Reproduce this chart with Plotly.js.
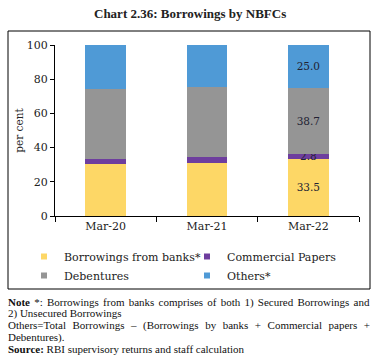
<!DOCTYPE html>
<html><head><meta charset="utf-8">
<script src="https://cdn.plot.ly/plotly-3.0.1.min.js"></script>
<style>html,body{margin:0;padding:0;background:#fff;}#chart{width:380px;height:363px;}</style>
</head><body><div id="chart"></div>
<script>
const categories = ['Mar-20', 'Mar-21', 'Mar-22'];
const banks = [30.4, 31.0, 33.5];
const commercialPapers = [2.7, 3.3, 2.8];
const debentures = [41.3, 41.1, 38.7];
const others = [25.6, 24.6, 25.0];
const seriesNames = ['Borrowings from banks*', 'Commercial Papers', 'Debentures', 'Others*'];
const colors = ['#FDD766', '#6E3E9E', '#959595', '#4F9AD6'];
const legendOf = ['legend', 'legend2', 'legend', 'legend2'];

function labels(vals) { return vals.map((v, i) => i === vals.length - 1 ? v.toFixed(1) : ''); }

const serif = 'Liberation Serif, Times New Roman, serif';
const wide = 'DejaVu Serif, serif';
const seriesVals = [banks, commercialPapers, debentures, others];
const traces = seriesVals.map((vals, k) => ({
  type: 'bar', x: categories, y: vals, name: seriesNames[k],
  legend: legendOf[k],
  marker: {color: colors[k]},
  width: 0.4,
  text: labels(vals), textposition: 'inside', insidetextanchor: 'middle',
  constraintext: 'none', cliponaxis: false,
  textfont: {family: wide, size: 10.5, color: '#222233'},
  hoverinfo: 'skip'
}));

const L = 55, R = 359, T = 45, B = 216;
const pw = R - L, ph = B - T;
const px = x => (x - L) / pw;
const py = y => (B - y) / ph;

const noteFont = {family: serif, size: 11, color: '#111'};
const noteLines = [
  [302, '<b>Note</b> *: Borrowings from banks comprises of both 1) Secured Borrowings and'],
  [313, '2) Unsecured Borrowings'],
  [325, 'Others=Total Borrowings – (Borrowings by banks + Commercial papers +'],
  [337, 'Debentures).'],
  [349, '<b>Source:</b> RBI supervisory returns and staff calculation']
];
const justifyIdx = [0, 2];
const annotations = noteLines.map(([y, t]) => ({
  xref: 'paper', yref: 'paper', x: px(7), y: py(y), xanchor: 'left', yanchor: 'middle',
  text: t, showarrow: false, font: noteFont, borderpad: 0, align: 'left'
}));
annotations.push({
  xref: 'paper', yref: 'paper', x: px(190), y: py(14), xanchor: 'center', yanchor: 'middle',
  text: '<b>Chart 2.36: Borrowings by NBFCs</b>', showarrow: false,
  font: {family: serif, size: 13, color: '#222'}
});

const legendCommon = {
  orientation: 'v', yanchor: 'top', xanchor: 'left', traceorder: 'normal',
  itemwidth: 30, bgcolor: 'rgba(0,0,0,0)',
  font: {family: wide, size: 11, color: '#222'}, tracegroupgap: 0
};

const layout = {
  width: 380, height: 363,
  margin: {l: L, r: 380 - R, t: T, b: 363 - B},
  paper_bgcolor: '#fff', plot_bgcolor: '#fff',
  barmode: 'stack', showlegend: true,
  font: {family: wide, size: 11, color: '#222'},
  xaxis: {
    showline: true, linecolor: '#000', linewidth: 1,
    ticks: 'outside', tickson: 'boundaries', ticklen: 5, tickcolor: '#000',
    tickfont: {family: wide, size: 11, color: '#222'}, fixedrange: true
  },
  yaxis: {
    range: [0, 100], dtick: 20, showgrid: false, zeroline: false,
    showline: true, linecolor: '#000', linewidth: 1,
    ticks: 'outside', ticklen: 4, tickcolor: '#000',
    tickfont: {family: wide, size: 11, color: '#222'},
    title: {text: 'per cent', font: {family: wide, size: 10.5, color: '#222'}, standoff: 1}
  },
  legend: Object.assign({}, legendCommon, {x: px(24), y: py(242)}),
  legend2: Object.assign({}, legendCommon, {x: px(187), y: py(242)}),
  shapes: [{
    type: 'rect', xref: 'paper', yref: 'paper',
    x0: px(8), x1: px(370), y0: py(289), y1: py(31),
    line: {color: '#000', width: 1}
  }],
  annotations: annotations
};

function finishing() {
  document.querySelectorAll('.legendpoints path').forEach(p => {
    const t = p.getAttribute('transform') || '';
    if (!/scale/.test(t)) p.setAttribute('transform', t + ' scale(0.5)');
  });
  const targetRight = 370;
  justifyIdx.forEach(i => {
    const g = document.querySelector('.annotation[data-index="' + i + '"]');
    if (!g) return;
    const txt = g.querySelector('text');
    txt.style.wordSpacing = '0px';
    const r = txt.getBoundingClientRect();
    const n = (txt.textContent.match(/[ \u00a0]/g) || []).length;
    if (n > 0) {
      const extra = (targetRight - r.right) / n;
      txt.style.wordSpacing = extra.toFixed(2) + 'px';
    }
  });
}
Plotly.newPlot('chart', traces, layout, {displayModeBar: false, staticPlot: true}).then(finishing);
</script></body></html>
